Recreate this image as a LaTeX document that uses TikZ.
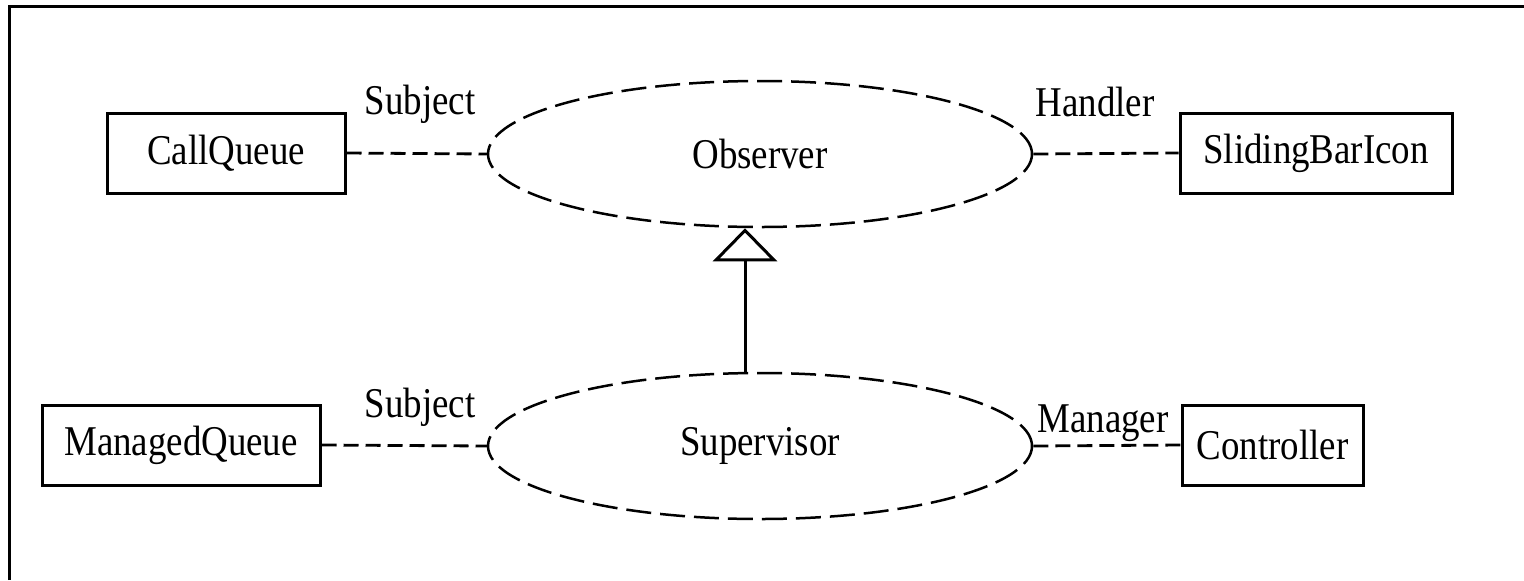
\documentclass[tikz,border=0pt]{standalone}
\usepackage{fontspec}
\setmainfont[FakeStretch=0.87]{Liberation Serif}
\usetikzlibrary{shapes.geometric,arrows.meta}

\begin{document}
\begin{tikzpicture}[x=0.5pt, y=-0.5pt,
        font=\fontsize{21.2}{25}\selectfont,
        cls/.style={draw, line width=1.5pt, minimum height=40pt, inner sep=0pt},
        role/.style={ellipse, draw, line width=1.25pt, dash pattern=on 12.5pt off 4.5pt,
                     minimum width=272pt, minimum height=73pt, inner sep=0pt},
        link/.style={line width=1.4pt, dash pattern=on 7.5pt off 3.5pt},
        tag/.style={inner sep=0pt},
    ]
    \useasboundingbox (0,0) rectangle (1524,580);

    % Frame
    \draw[line width=1.5pt] (9,580) -- (9,6) -- (1524,6);

    % Top row
    \node[cls, minimum width=119pt] (callq) at (226,153) {CallQueue};
    \node[role] (observer) at (760,154) {Observer};
    \node[cls, minimum width=136pt] (slider) at (1316,153) {SlidingBarIcon};

    % Bottom row
    \node[cls, minimum width=139pt] (managedq) at (181,445) {ManagedQueue};
    \node[role] (supervisor) at (760,446) {Supervisor};
    \node[cls, minimum width=90.5pt] (ctrl) at (1272.5,445) {Controller};

    % Role labels
    \node[tag] (subj1) at (420,104) {Subject};
    \node[tag] (handler) at (1095,102) {Handler};
    \node[tag] (subj2) at (420,407) {Subject};
    \node[tag] (manager) at (1103,423) {Manager};

    % Connectors
    \draw[link] (callq.east) -- (observer.west);
    \draw[link] (observer.east) -- (slider.west);
    \draw[link] (managedq.east) -- (supervisor.west);
    \draw[link] (supervisor.east) -- (ctrl.west);

    % Generalization
    \draw[line width=1.5pt, -{Triangle[open, width=32pt, length=16.5pt]}]
        ([xshift=-7.5pt]supervisor.north) -- ([xshift=-7.5pt]observer.south);
\end{tikzpicture}
\end{document}
